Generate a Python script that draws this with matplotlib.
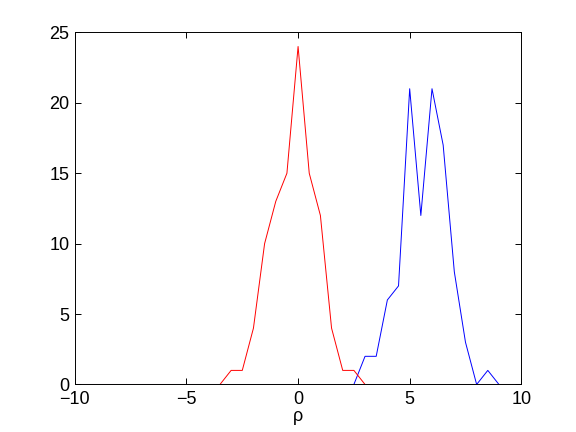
import numpy as np
import matplotlib.pyplot as plt

# histogram-like curves on rho, step 0.5
rho = np.arange(-10, 10.5, 0.5)

red_x = [-3.5, -3, -2.5, -2, -1.5, -1, -0.5, 0, 0.5, 1, 1.5, 2, 2.5, 3]
red_y = [0, 1, 1, 4, 10, 13, 15, 24, 15, 12, 4, 1, 1, 0]

blue_x = [2.5, 3, 3.5, 4, 4.5, 5, 5.5, 6, 6.5, 7, 7.5, 8, 8.5, 9]
blue_y = [0, 2, 2, 6, 7, 21, 12, 21, 17, 8, 3, 0, 1, 0]


def fill_counts(xs, ys):
    counts = np.zeros(len(rho))
    for x, y in zip(xs, ys):
        counts[np.argmin(np.abs(rho - x))] = y
    return counts


red = fill_counts(red_x, red_y)
blue = fill_counts(blue_x, blue_y)

plt.rcParams['font.family'] = ['Liberation Sans', 'DejaVu Sans']
fig = plt.figure(figsize=(5.76, 4.32), dpi=100)
ax = fig.add_axes([0.13, 0.11, 0.775, 0.815])
ax.plot(rho, blue, color='blue', linewidth=0.7)
ax.plot(rho, red, color='red', linewidth=0.7)
ax.set_xlim(-10, 10)
ax.set_ylim(0, 25)
ax.set_xticks([-10, -5, 0, 5, 10])
ax.set_yticks([0, 5, 10, 15, 20, 25])
ax.tick_params(direction='in', top=True, right=True, labelsize=13, length=4, width=0.7)
ax.tick_params(axis='x', pad=5)
ax.tick_params(axis='y', pad=4)
for s in ax.spines.values():
    s.set_linewidth(0.7)
ax.set_xlabel('ρ', fontsize=13, labelpad=0)
fig.savefig('out.png', dpi=100)
